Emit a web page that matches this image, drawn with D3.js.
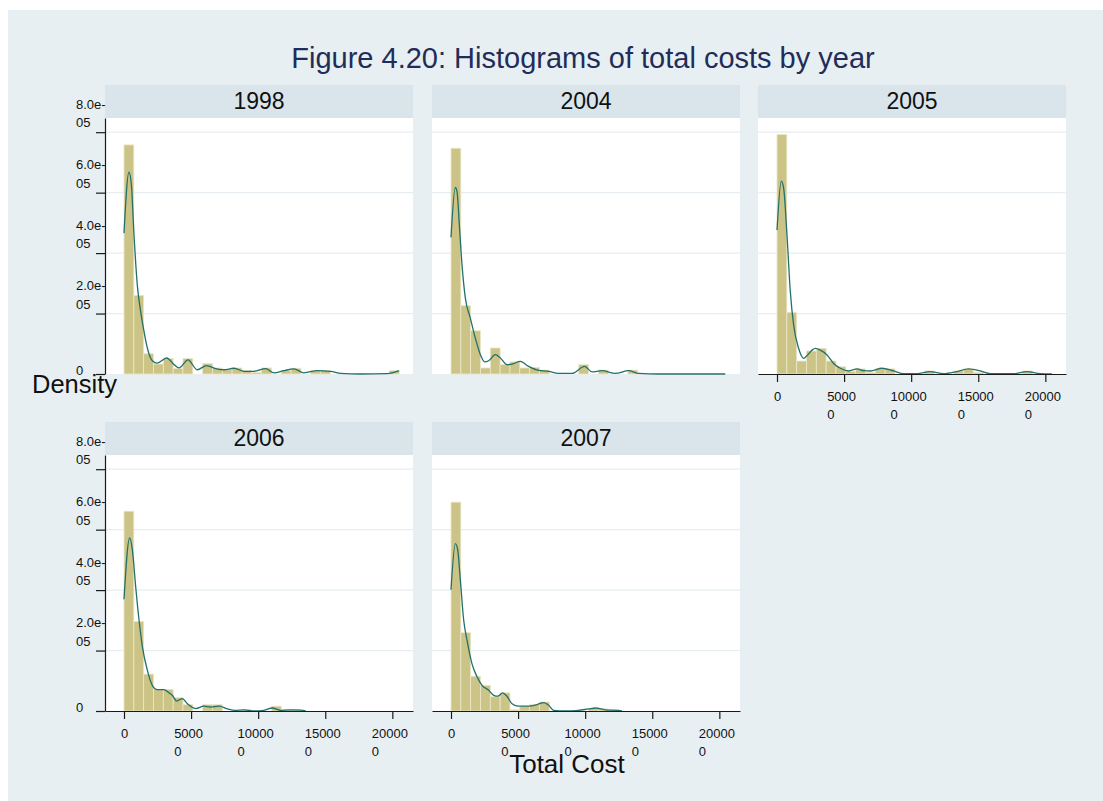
<!DOCTYPE html>
<html>
<head>
<meta charset="utf-8">
<script src="https://cdn.jsdelivr.net/npm/d3@7"></script>
<style>
  html, body { margin: 0; padding: 0; background: #ffffff; }
  svg { display: block; }
  text { font-family: "Liberation Sans", Arial, Helvetica, sans-serif; }
</style>
</head>
<body>
<svg id="chart" width="1103" height="801"></svg>
<script>
// Histogram bins: common width, densities given in units of 1e-5
const years = ["1998", "2004", "2005", "2006", "2007"];
const binWidth = 7325;
const densityUnit = 1e-5;

const bars1998 = [7.58, 2.60, 0.67, 0.33, 0.51, 0.18, 0.51, 0, 0.35, 0.20, 0.14, 0.20, 0.11, 0.05,
                  0.20, 0, 0.11, 0.19, 0, 0.11, 0.11, 0, 0, 0, 0, 0, 0, 0.11];
const bars2004 = [7.47, 2.26, 1.43, 0.20, 0.86, 0.31, 0.40, 0.20, 0.22, 0.13, 0, 0, 0, 0.31,
                  0, 0.13, 0, 0, 0.13, 0, 0, 0, 0, 0, 0, 0, 0, 0];
const bars2005 = [7.92, 2.04, 0.43, 0.76, 0.85, 0.43, 0.24, 0.08, 0.17, 0.05, 0.17, 0.17, 0, 0,
                  0, 0.10, 0, 0, 0.10, 0.17, 0.05, 0, 0, 0, 0, 0.10, 0, 0];
const bars2006 = [6.61, 2.96, 1.22, 0.71, 0.71, 0.44, 0.21, 0, 0.21, 0.21, 0, 0, 0.04, 0,
                  0, 0.16, 0.04, 0.04, 0, 0, 0, 0, 0, 0, 0, 0, 0, 0];
const bars2007 = [6.91, 2.59, 1.15, 0.85, 0.47, 0.60, 0.04, 0.16, 0.21, 0.30, 0, 0, 0, 0,
                  0.08, 0.07, 0.04, 0, 0, 0, 0, 0, 0, 0, 0, 0, 0, 0];

// Kernel density estimates: [total cost, density in 1e-5]
const kde1998 = [[0, 4.66], [3700, 6.68], [5500, 6.26], [7450, 4.61], [9900, 2.95], [12400, 2.07],
  [14900, 1.41], [17400, 0.86], [21100, 0.44], [24800, 0.36], [31800, 0.53], [37300, 0.31],
  [41000, 0.20], [47700, 0.47], [54600, 0.14], [61600, 0.28], [68300, 0.18], [74500, 0.14],
  [82000, 0.19], [89400, 0.09], [96900, 0.09], [105600, 0.18], [111800, 0.04], [119200, 0.11],
  [126700, 0.17], [134100, 0.04], [144100, 0.11], [154000, 0.09], [161500, 0.02], [176400, 0],
  [196200, 0.01], [205000, 0.11]];
const kde2004 = [[0, 4.52], [3230, 6.17], [4470, 6.04], [6210, 4.94], [8200, 3.61], [10700, 2.51],
  [14400, 1.85], [18100, 1.19], [21900, 0.64], [25100, 0.40], [28100, 0.44], [33000, 0.64],
  [36800, 0.53], [41700, 0.31], [45500, 0.33], [51700, 0.42], [57900, 0.25], [65300, 0.12],
  [72800, 0.09], [80200, 0.02], [90200, 0.02], [99600, 0.25], [105100, 0.07], [112500, 0.11],
  [122500, 0.02], [132400, 0.11], [139800, 0.02], [154800, 0], [204400, 0]];
const kde2005 = [[0, 4.76], [3230, 6.38], [4970, 6.14], [7450, 4.59], [9940, 2.72], [12400, 1.62],
  [16100, 0.85], [19900, 0.52], [22400, 0.61], [26100, 0.79], [28600, 0.85], [32300, 0.79],
  [37300, 0.63], [42200, 0.35], [47200, 0.19], [53400, 0.10], [59600, 0.17], [64600, 0.11],
  [69600, 0.10], [78200, 0.19], [86900, 0.10], [94400, 0.01], [104300, 0.01], [114300, 0.08],
  [124200, 0.01], [134100, 0.08], [142800, 0.17], [151500, 0.10], [159000, 0.01], [176400, 0.01],
  [186300, 0.08], [196200, 0.01], [204900, 0]];
const kde2006 = [[0, 3.70], [4220, 5.73], [6210, 5.34], [8690, 4.12], [11200, 3.01], [13700, 2.13],
  [17400, 1.35], [21100, 0.85], [24800, 0.71], [29800, 0.71], [33500, 0.60], [36000, 0.52],
  [39200, 0.33], [43500, 0.41], [47200, 0.24], [53400, 0.08], [59600, 0.16], [64600, 0.13],
  [70800, 0.16], [77000, 0.07], [83200, 0.02], [89400, 0.04], [96900, 0], [104300, 0.02],
  [110500, 0.10], [116700, 0.02], [124200, 0.04], [131700, 0.03], [135400, 0]];
const kde2007 = [[0, 4.01], [3230, 5.54], [4970, 5.34], [6960, 4.34], [9440, 3.01], [11900, 2.35],
  [15600, 1.57], [19400, 1.13], [23100, 0.85], [28100, 0.69], [31800, 0.52], [35000, 0.49],
  [38500, 0.60], [41700, 0.49], [45500, 0.24], [50400, 0.16], [57900, 0.16], [64100, 0.21],
  [69100, 0.28], [72800, 0.19], [76500, 0.02], [85200, 0], [95100, 0.02], [102600, 0.07],
  [107600, 0.10], [115000, 0.04], [124900, 0.02], [127400, 0]];

// Axis ticks and their (wrapped) labels
const xTicks = [0, 50000, 100000, 150000, 200000];
const xTickLabels = [["0"], ["5000", "0"], ["10000", "0"], ["15000", "0"], ["20000", "0"]];
const yTicks = [0, 2e-5, 4e-5, 6e-5, 8e-5];
const yTickLabels = [["0"], ["2.0e-", "05"], ["4.0e-", "05"], ["6.0e-", "05"], ["8.0e-", "05"]];

const titleText = "Figure 4.20: Histograms of total costs by year";
const yTitle = "Density";
const xTitle = "Total Cost";

// ---- layout ----
const W = 1103, H = 801;
const colX = [105, 432, 758];
const rowY = [85, 422];
const headerH = 33, plotH = 256, panelW = 308;

const colors = {
  page: "#e8eff2",
  header: "#d9e5eb",
  plot: "#ffffff",
  grid: "#e6eef1",
  bar: "#cbc486",
  barEdge: "#ebe7c8",
  kde: "#23706a",
  axis: "#1a1a1a",
  title: "#1f2d58",
  text: "#111111"
};

const svg = d3.select("#chart");
svg.append("rect").attr("width", W).attr("height", H).attr("fill", "#ffffff");
svg.append("rect").attr("x", 8).attr("y", 10).attr("width", W - 8).attr("height", H - 10)
  .attr("fill", colors.page);

const x = d3.scaleLinear().domain([-14160, 215400]).range([0, panelW]);
const y = d3.scaleLinear().domain([0, 8.47e-5]).range([plotH, 0]);

const panels = [
  { year: years[0], bars: bars1998, kde: kde1998, col: 0, row: 0, yAxis: true,  xAxis: false },
  { year: years[1], bars: bars2004, kde: kde2004, col: 1, row: 0, yAxis: false, xAxis: false },
  { year: years[2], bars: bars2005, kde: kde2005, col: 2, row: 0, yAxis: false, xAxis: true },
  { year: years[3], bars: bars2006, kde: kde2006, col: 0, row: 1, yAxis: true,  xAxis: true },
  { year: years[4], bars: bars2007, kde: kde2007, col: 1, row: 1, yAxis: false, xAxis: true }
];

const line = d3.line()
  .x(d => x(d[0]))
  .y(d => y(d[1] * densityUnit))
  .curve(d3.curveMonotoneX);

panels.forEach(p => {
  const px = colX[p.col], py = rowY[p.row];

  // panel header
  const head = svg.append("g").attr("transform", `translate(${px},${py})`);
  head.append("rect").attr("width", panelW).attr("height", headerH).attr("fill", colors.header);
  head.append("text")
    .attr("x", panelW / 2).attr("y", 24)
    .attr("text-anchor", "middle")
    .attr("font-size", 23)
    .attr("fill", colors.text)
    .text(p.year);

  const g = svg.append("g").attr("transform", `translate(${px},${py + headerH})`);
  g.append("rect").attr("width", panelW).attr("height", plotH).attr("fill", colors.plot);

  // horizontal grid lines
  g.append("g").selectAll("line")
    .data(yTicks.filter(t => t > 0))
    .join("line")
    .attr("x1", 0).attr("x2", panelW)
    .attr("y1", d => y(d)).attr("y2", d => y(d))
    .attr("stroke", colors.grid).attr("stroke-width", 1.2);

  // histogram bars
  g.append("g").selectAll("rect")
    .data(p.bars.map((v, i) => ({ i, v })).filter(d => d.v > 0))
    .join("rect")
    .attr("x", d => x(d.i * binWidth))
    .attr("width", d => x((d.i + 1) * binWidth) - x(d.i * binWidth))
    .attr("y", d => y(d.v * densityUnit))
    .attr("height", d => plotH - y(d.v * densityUnit))
    .attr("fill", colors.bar)
    .attr("stroke", colors.barEdge)
    .attr("stroke-width", 0.8);

  // kernel density curve
  g.append("path")
    .datum(p.kde)
    .attr("d", line)
    .attr("fill", "none")
    .attr("stroke", colors.kde)
    .attr("stroke-width", 1.3);

  if (p.yAxis) {
    const ax = g.append("g")
      .call(d3.axisLeft(y).tickValues(yTicks).tickSize(9).tickSizeOuter(0).tickFormat(() => ""));
    ax.attr("color", colors.axis);
    ax.select(".domain").attr("stroke-width", 1.2);
    ax.selectAll(".tick line").attr("stroke-width", 1.2);
    ax.selectAll(".tick text").remove();
    ax.selectAll(".tick").each(function (d, i) {
      const lines = yTickLabels[yTicks.indexOf(d)];
      const t = d3.select(this);
      const offsets = lines.length > 1 ? [-24, -5.5] : [0];
      lines.forEach((s, k) => {
        t.append("text")
          .attr("x", -29).attr("y", offsets[k])
          .attr("text-anchor", "start")
          .attr("font-size", 13)
          .attr("fill", colors.text)
          .text(s);
      });
    });
  }

  if (p.xAxis) {
    const ax = g.append("g")
      .attr("transform", `translate(0,${plotH})`)
      .call(d3.axisBottom(x).tickValues(xTicks).tickSize(8).tickSizeOuter(0).tickFormat(() => ""));
    ax.attr("color", colors.axis);
    ax.select(".domain").attr("stroke-width", 1.2);
    ax.selectAll(".tick line").attr("stroke-width", 1.2);
    ax.selectAll(".tick text").remove();
    ax.selectAll(".tick").each(function (d) {
      const lines = xTickLabels[xTicks.indexOf(d)];
      const t = d3.select(this);
      if (lines.length === 1) {
        t.append("text").attr("x", 0).attr("y", 27)
          .attr("text-anchor", "middle").attr("font-size", 13)
          .attr("fill", colors.text).text(lines[0]);
      } else {
        const first = t.append("text").attr("x", -3).attr("y", 27)
          .attr("text-anchor", "middle").attr("font-size", 13)
          .attr("fill", colors.text).text(lines[0]);
        const w1 = first.node().getComputedTextLength();
        t.append("text").attr("x", -3 - w1 / 2).attr("y", 45)
          .attr("text-anchor", "start").attr("font-size", 13)
          .attr("fill", colors.text).text(lines[1]);
      }
    });
  }
});

// titles
svg.append("text")
  .attr("x", 583).attr("y", 68)
  .attr("text-anchor", "middle")
  .attr("font-size", 29)
  .attr("fill", colors.title)
  .text(titleText);

svg.append("text")
  .attr("x", 32).attr("y", 393)
  .attr("font-size", 25.5)
  .attr("fill", colors.text)
  .text(yTitle);

svg.append("text")
  .attr("x", 567).attr("y", 773)
  .attr("text-anchor", "middle")
  .attr("font-size", 26)
  .attr("fill", colors.text)
  .text(xTitle);
</script>
</body>
</html>
